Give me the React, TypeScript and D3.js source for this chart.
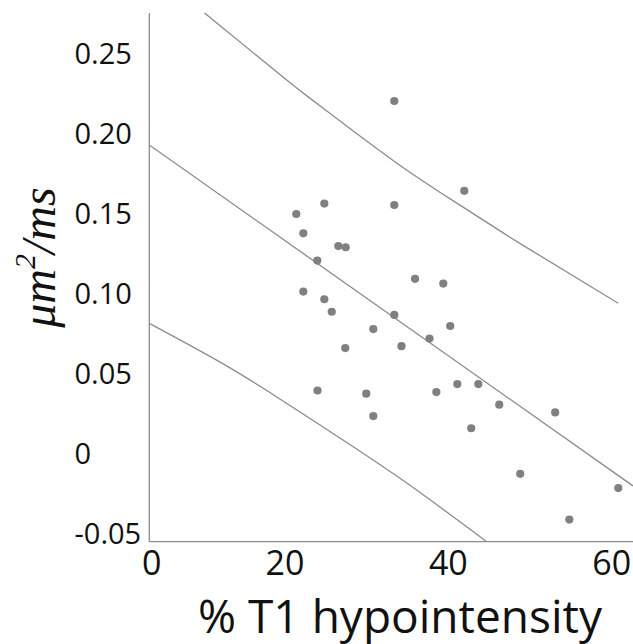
import React from "react";
import * as d3 from "d3";

// ---- data ----
const pointX = [33.38, 41.95, 24.81, 33.38, 21.38, 22.24, 26.53, 27.43, 23.95, 35.92, 39.38, 22.24, 24.81, 25.72, 33.38, 40.23, 30.81, 37.69, 27.38, 34.26, 23.98, 29.95, 38.53, 41.1, 43.67, 46.23, 30.81, 42.8, 53.08, 48.8, 60.81, 54.81];
const pointY = [0.2225, 0.1664, 0.1584, 0.1575, 0.1519, 0.1398, 0.1319, 0.1311, 0.1228, 0.1114, 0.1084, 0.1034, 0.0986, 0.0908, 0.0888, 0.0819, 0.08, 0.0741, 0.0681, 0.0693, 0.0416, 0.0396, 0.0406, 0.0456, 0.0456, 0.0327, 0.0256, 0.018, 0.0279, -0.0105, -0.0194, -0.0391];

const fitX = [3.38, 62.6];
const fitY = [0.195, -0.018];
const upperX = [10.1, 20.2, 24.3, 33.7, 41.8, 48.8, 60.8];
const upperY = [0.2777, 0.2356, 0.2194, 0.1836, 0.1562, 0.1334, 0.0961];
const lowerX = [3.38, 12.0, 18.16, 24.29, 34.08, 44.7];
const lowerY = [0.0836, 0.0595, 0.0403, 0.02, -0.0133, -0.0529];

const yTickValues = [-0.05, 0, 0.05, 0.1, 0.15, 0.2, 0.25];
const yTickLabels = ["-0.05", "0", "0.05", "0.10", "0.15", "0.20", "0.25"];
const xTickValues = [0, 20, 40, 60];
const xTickLabels = ["0", "20", "40", "60"];

const xTitle = "% T1 hypointensity";

export default function App() {
  const W = 633;
  const H = 644;
  const left = 149.3, right = 633, top = 13, bottom = 541.7;

  const x = d3.scaleLinear().domain([3.38, 62.61]).range([left, right]).clamp(true);
  const y = d3.scaleLinear().domain([-0.0529, 0.2775]).range([bottom, top]);

  const mk = (xs: number[], ys: number[]) =>
    d3
      .line<number>()
      .x((_, i) => x(xs[i]))
      .y((_, i) => y(ys[i]))
      .curve(d3.curveNatural)(xs) || "";

  const lineColor = "#8c8c8c";
  const font = "'Open Sans', sans-serif";

  return (
    <svg
      width={W}
      height={H}
      style={{ position: "absolute", left: 0, top: 0, display: "block", background: "#fff" }}
    >
      <defs>
        <clipPath id="plotclip">
          <rect x={left} y={top} width={right - left} height={bottom - top} />
        </clipPath>
      </defs>
      <rect width={W} height={H} fill="#fff" />

      <g clipPath="url(#plotclip)" fill="none" stroke={lineColor} strokeWidth={1.3}>
        <path d={mk(upperX, upperY)} />
        <path d={mk(fitX, fitY)} />
        <path d={mk(lowerX, lowerY)} />
      </g>

      {/* axes */}
      <line x1={left} x2={left} y1={top} y2={bottom} stroke="#8c8c8c" strokeWidth={1.3} />
      <line x1={left} x2={right} y1={bottom} y2={bottom} stroke="#8c8c8c" strokeWidth={1.3} />

      {/* points */}
      <g fill="#808080">
        {pointX.map((v, i) => (
          <circle key={i} cx={x(v)} cy={y(pointY[i])} r={4.1} />
        ))}
      </g>

      {/* y tick labels */}
      <g fontFamily={font} fontSize={29} fill="#111">
        {yTickValues.map((v, i) => (
          <text key={i} x={74.5} y={y(v) - 4.7 + 11.2} textAnchor="start">
            {yTickLabels[i]}
          </text>
        ))}
      </g>

      {/* x tick labels */}
      <g fontFamily={font} fontSize={34} fill="#111">
        {xTickValues.map((v, i) => (
          <text key={i} x={x(v) + (v === 0 ? 2.4 : 0)} y={575} textAnchor="middle">
            {xTickLabels[i]}
          </text>
        ))}
      </g>

      {/* axis titles */}
      <text x={400} y={633} textAnchor="middle" fontFamily={font} fontSize={46} fill="#111">
        {xTitle}
      </text>
      <text
        transform="translate(55,257.5) rotate(-90)"
        textAnchor="middle"
        fontFamily="'Liberation Serif', 'Times New Roman', serif"
        fontStyle="italic"
        fontSize={48}
        fill="#111"
      >
        μm
        <tspan fontSize={30} dy={-20}>2</tspan>
        <tspan dy={20}>/ms</tspan>
      </text>
    </svg>
  );
}
